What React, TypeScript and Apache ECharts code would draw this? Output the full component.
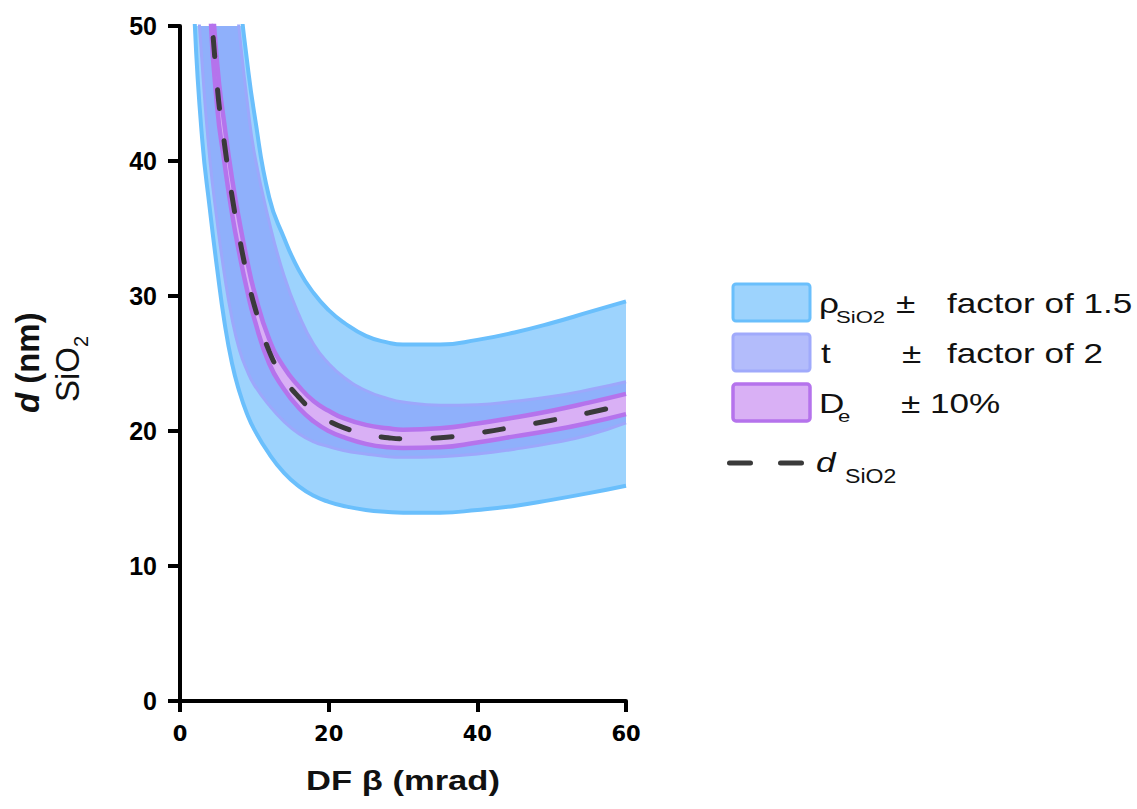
import React, { useEffect, useRef } from "react";
import * as echarts from "echarts";

// DF collection angle beta (mrad)
const BETA = [1.5, 2, 3, 4, 5, 6, 7, 8, 9, 10, 12, 14, 16, 18, 20, 22, 25, 28, 30, 35, 40, 45, 50, 55, 60];
// rho_SiO2 +/- factor of 1.5 band (nm)
const RHO_HIGH = [280, 210, 140, 105, 84, 70, 60, 52.5, 47.5, 43.5, 37.3, 34.3, 31.9, 30.2, 28.95, 28.05, 27.05, 26.55, 26.4, 26.4, 26.75, 27.3, 28.0, 28.8, 29.6];
const RHO_LOW = [60, 50, 41.5, 36.5, 32, 28, 25.0, 22.9, 21.3, 20.1, 18.3, 16.9, 15.9, 15.2, 14.75, 14.45, 14.15, 14.0, 13.95, 13.95, 14.15, 14.45, 14.9, 15.4, 15.95];
// t +/- factor of 2 band (nm)
const T_HIGH = [230, 170, 115, 88, 72, 62, 55, 49.5, 44.6, 40.6, 35.5, 31.5, 28.6, 26.4, 25.0, 24.0, 23.0, 22.4, 22.15, 21.9, 21.95, 22.2, 22.55, 23.05, 23.65];
const T_LOW = [64, 56, 47, 40.2, 35.5, 31.5, 28.3, 26.0, 24.5, 23.4, 21.9, 20.7, 19.8, 19.2, 18.85, 18.55, 18.3, 18.1, 18.05, 18.1, 18.3, 18.65, 19.1, 19.7, 20.6];
// De +/- 10% band (nm)
const DE_HIGH = [134.6, 103.5, 72.5, 55.9, 47.2, 42.6, 38.7, 35.5, 32.7, 30.3, 26.8, 24.7, 23.3, 22.2, 21.5, 20.95, 20.45, 20.2, 20.1, 20.2, 20.55, 21.0, 21.5, 22.1, 22.75];
const DE_LOW = [125.5, 96.5, 67.6, 52.1, 44.0, 39.8, 36.1, 33.1, 30.5, 28.3, 25.0, 23.1, 21.7, 20.7, 20.0, 19.55, 19.05, 18.8, 18.75, 18.8, 19.15, 19.6, 20.05, 20.6, 21.25];
// d_SiO2 (nm)
const D_SIO2 = [130, 100, 70, 54, 45.6, 41.2, 37.4, 34.3, 31.6, 29.3, 25.9, 23.9, 22.5, 21.45, 20.75, 20.25, 19.75, 19.5, 19.42, 19.5, 19.85, 20.3, 20.8, 21.35, 22.0];

const X_TICKS = [0, 20, 40, 60];
const Y_TICKS = [0, 10, 20, 30, 40, 50];

const ARIAL = '"Liberation Sans", Arial, Helvetica, sans-serif';
const DEJAVU = '"DejaVu Sans", sans-serif';

const RHO_FILL = "#9DD3FD";
const RHO_EDGE = "#6ABFFC";
const T_FILL_PLOT = "#8FB0FB"; // t band seen over the rho band
const T_FILL_SWATCH = "#B3BCFB";
const T_EDGE = "#9DA7FB";
const DE_FILL = "#D9B0F5";
const DE_EDGE = "#B573EC";
const DASH = "#3A3A3A";

const pairs = (ys: number[]) => BETA.map((b, i) => [b, ys[i]]);

const common = { type: "line", smooth: true, symbol: "none", silent: true, clip: true };

// Nested fills: each curve filled up to the top of the axis, painted from the bottom band upward.
const fill = (name: string, ys: number[], color: string) => ({
  ...common,
  name,
  data: pairs(ys),
  lineStyle: { width: 0, opacity: 0 },
  areaStyle: { color, opacity: 1, origin: "end" },
});
const edge = (name: string, ys: number[], color: string, width: number) => ({
  ...common,
  name,
  data: pairs(ys),
  lineStyle: { color, width },
});

const txt = (
  text: string,
  x: number,
  baseline: number,
  size: number,
  o: { sx?: number; w?: string; i?: boolean; align?: string } = {}
) => ({
  type: "text",
  x,
  y: baseline - 0.35 * size,
  scaleX: o.sx ?? 1.3,
  silent: true,
  style: {
    text,
    fontSize: size,
    fontFamily: ARIAL,
    fontWeight: o.w ?? "normal",
    fontStyle: o.i ? "italic" : "normal",
    fill: "#111",
    align: o.align ?? "left",
    verticalAlign: "middle",
  },
});

const swatch = (y: number, fillC: string, stroke: string, lw: number) => ({
  type: "rect",
  silent: true,
  shape: { x: 733, y, width: 77, height: 37, r: 3 },
  style: { fill: fillC, stroke, lineWidth: lw },
});

export default function App() {
  const ref = useRef<HTMLDivElement>(null);
  useEffect(() => {
    if (!ref.current) return;
    const chart = echarts.init(ref.current, undefined, { renderer: "svg" });
    const axisCommon = {
      type: "value",
      z: 10,
      splitLine: { show: false },
      axisLine: { show: true, onZero: false, lineStyle: { color: "#000", width: 4 } },
    };
    const option: any = {
      animation: false,
      backgroundColor: "#fff",
      grid: { left: 180, top: 26, width: 446, height: 675, containLabel: false },
      xAxis: {
        ...axisCommon,
        min: 0,
        max: 60,
        interval: 20,
        axisTick: { show: true, length: 11, lineStyle: { color: "#000", width: 4 } },
        axisLabel: {
          margin: 22,
          color: "#000",
          fontSize: 21,
          fontWeight: "bold",
          fontFamily: DEJAVU,
          formatter: (v: number) => (X_TICKS.includes(v) ? String(v) : ""),
        },
      },
      yAxis: {
        ...axisCommon,
        min: 0,
        max: 50,
        interval: 10,
        axisTick: { show: true, length: 12, lineStyle: { color: "#000", width: 4 } },
        axisLabel: {
          margin: 23,
          color: "#000",
          fontSize: 25,
          fontWeight: "bold",
          fontFamily: ARIAL,
          formatter: (v: number) => (Y_TICKS.includes(v) ? String(v) : ""),
        },
      },
      series: [
        fill("rho-low-fill", RHO_LOW, RHO_FILL),
        fill("t-low-fill", T_LOW, T_FILL_PLOT),
        fill("de-low-fill", DE_LOW, DE_FILL),
        fill("de-high-fill", DE_HIGH, T_FILL_PLOT),
        fill("t-high-fill", T_HIGH, RHO_FILL),
        fill("rho-high-fill", RHO_HIGH, "#FFFFFF"),
        edge("rho-high", RHO_HIGH, RHO_EDGE, 4),
        edge("rho-low", RHO_LOW, RHO_EDGE, 4),
        edge("t-high", T_HIGH, T_EDGE, 3),
        edge("t-low", T_LOW, T_EDGE, 3),
        edge("de-high", DE_HIGH, DE_EDGE, 4.5),
        edge("de-low", DE_LOW, DE_EDGE, 4.5),
        {
          ...common,
          name: "d SiO2",
          data: pairs(D_SIO2),
          lineStyle: { color: DASH, width: 5, type: [19, 33], cap: "round" },
        },
      ],
      graphic: [
        swatch(284, RHO_FILL, RHO_EDGE, 3),
        swatch(334, T_FILL_SWATCH, "#A0AAFB", 3),
        swatch(384, DE_FILL, DE_EDGE, 3.5),
        txt("ρ", 819, 313, 27),
        txt("SiO2", 836, 323, 17),
        txt("±", 896, 313, 27),
        txt("factor of 1.5", 947, 313, 27),
        txt("t", 821, 363, 27),
        txt("±", 902, 363, 27),
        txt("factor of 2", 947, 363, 27),
        txt("D", 819, 413, 27),
        txt("e", 838, 422, 17),
        txt("± 10%", 901, 413, 27),
        {
          type: "line",
          silent: true,
          shape: { x1: 729.5, y1: 463, x2: 802.5, y2: 463 },
          style: { stroke: DASH, lineWidth: 5, lineDash: [21, 30], lineCap: "round" },
        },
        txt("d", 816, 472, 27, { i: true }),
        txt("SiO2", 845, 483, 21, { sx: 1.1 }),
        txt("DF β (mrad)", 403, 790, 27, { w: "bold", sx: 1.28, align: "center" }),
        {
          type: "group",
          x: 0,
          y: 413,
          rotation: Math.PI / 2,
          silent: true,
          children: [
            {
              type: "text",
              x: 0,
              y: 27,
              style: {
                text: "d",
                fontSize: 33,
                fontFamily: ARIAL,
                fontWeight: "bold",
                fontStyle: "italic",
                fill: "#111",
                align: "left",
                verticalAlign: "middle",
              },
            },
            {
              type: "text",
              x: 20,
              y: 27,
              style: {
                text: " (nm)",
                fontSize: 33,
                fontFamily: ARIAL,
                fontWeight: "bold",
                fill: "#111",
                align: "left",
                verticalAlign: "middle",
              },
            },
            {
              type: "text",
              x: 11,
              y: 67,
              style: {
                text: "SiO",
                fontSize: 33,
                fontFamily: ARIAL,
                fill: "#111",
                align: "left",
                verticalAlign: "middle",
              },
            },
            {
              type: "text",
              x: 66,
              y: 81,
              style: {
                text: "2",
                fontSize: 20,
                fontFamily: ARIAL,
                fill: "#111",
                align: "left",
                verticalAlign: "middle",
              },
            },
          ],
        },
      ],
    };
    chart.setOption(option);
    return () => chart.dispose();
  }, []);
  return (
    <div
      ref={ref}
      style={{ position: "fixed", left: 0, top: 0, width: 1137, height: 809, background: "#fff" }}
    />
  );
}
